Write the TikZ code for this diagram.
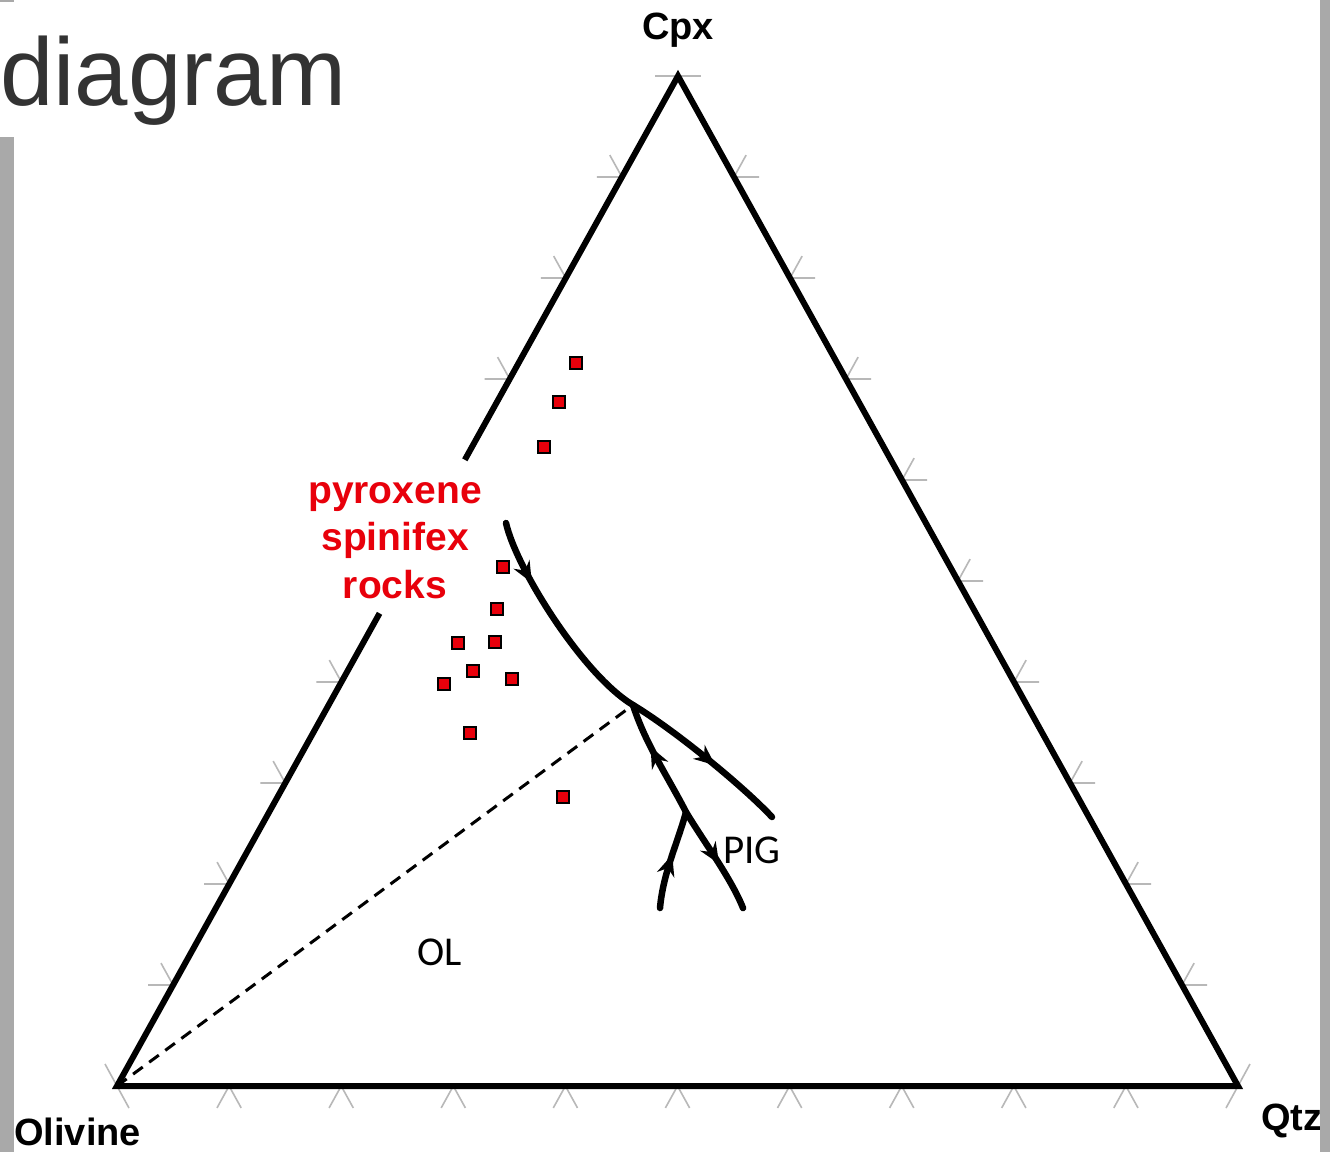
\documentclass[tikz,border=0pt]{standalone}
\usepackage{fontspec}
\setmainfont{Liberation Sans}
\newfontfamily\calibfont{Carlito}
\usetikzlibrary{calc,arrows.meta,decorations.markings}
\definecolor{tickgray}{HTML}{B8B8B8}
\definecolor{stripgray}{HTML}{A9A9A9}
\definecolor{titlegray}{HTML}{333333}
\definecolor{samplered}{HTML}{E8000B}
\definecolor{labelred}{HTML}{E8000B}
\begin{document}
\begin{tikzpicture}[x=1pt,y=-1pt,
  tickline/.style={draw=tickgray, line width=1.6pt},
  edgeline/.style={draw=black, line width=6pt, line join=miter},
  tieline/.style={draw=black, line width=3pt, dash pattern=on 12pt off 8pt},
  flowline/.style={draw=black, line width=6.5pt, line cap=round},
  flowarrow/.style={postaction={decorate}, decoration={markings,
     mark=at position #1 with {\arrow{Stealth[length=21pt,width=18pt,inset=7pt]}}}},
  sample/.style={rectangle, draw=black, fill=samplered, line width=1.8pt,
     minimum size=12.5pt, inner sep=0pt},
  vlabel/.style={font=\bfseries\fontsize{38}{44}\selectfont, inner sep=0pt},
  redlabel/.style={font=\bfseries\fontsize{39}{47}\selectfont, text=labelred, inner sep=0pt, anchor=base},
  fieldlabel/.style={font=\calibfont\fontsize{41}{46}\selectfont, inner sep=0pt}]

\useasboundingbox (0,0) rectangle (1330,1152);
\fill[white] (0,0) rectangle (1330,1152);

% vertices
\coordinate (O) at (117,1086);
\coordinate (Q) at (1238,1086);
\coordinate (C) at (678,76);

% ticks on the bottom edge
\foreach \k in {1,...,9} {
  \coordinate (b\k) at ($(O)!\k/10!(Q)$);
  \draw[tickline] ($(b\k)+(-12.1,21.9)$) -- (b\k) -- ($(b\k)+(12.1,21.9)$);
}
% ticks on the left edge
\foreach \k in {1,2,3,4,7,8,9} {
  \coordinate (l\k) at ($(O)!\k/10!(C)$);
  \draw[tickline] ($(l\k)+(-25,0)$) -- (l\k) -- ($(l\k)+(-12.1,-21.9)$);
}
% ticks on the right edge
\foreach \k in {1,...,9} {
  \coordinate (r\k) at ($(Q)!\k/10!(C)$);
  \draw[tickline] ($(r\k)+(25,0)$) -- (r\k) -- ($(r\k)+(12.1,-21.9)$);
}
% vertex ticks
\draw[tickline] ($(O)+(-12,-22)$) -- ($(O)+(12,22)$);
\draw[tickline] ($(Q)+(12,-22)$) -- ($(Q)+(-12,22)$);
\draw[tickline] ($(C)+(-23,0)$) -- ($(C)+(23,0)$);

% triangle (left edge broken by the label)
\coordinate (gapT) at ($(O)!0.620!(C)$);
\coordinate (gapB) at ($(O)!0.468!(C)$);
\draw[edgeline] (gapT) -- (C) -- (Q) -- (O) -- (gapB);

% cotectic curves
\coordinate (s) at (506,523);
\coordinate (j) at (633,705);
\coordinate (e) at (772,817);
\coordinate (k) at (686,812);
\coordinate (f) at (743,908);
\coordinate (g) at (660,908);

\draw[tieline] (O) -- (j);

\draw[flowline, flowarrow=0.29] (s) .. controls +(10,45) and +(-50,-30) .. (j);
\draw[flowline, flowarrow=0.57] (j) .. controls +(40,24) and +(-30,-32) .. (e);
\draw[flowline, flowarrow=0.62] (k) .. controls +(-18,-35) and +(12,38) .. (j);
\draw[flowline, flowarrow=0.55] (k) .. controls +(18,30) and +(-12,-30) .. (f);
\draw[flowline, flowarrow=0.55] (g) .. controls +(3,-35) and +(-8,30) .. (k);

% samples
\foreach \n/\x/\y in {1/576/363, 2/559/402, 3/544/447, 4/503/567, 5/497/609,
   6/458/643, 7/495/642, 8/473/671, 9/444/684, 10/512/679, 11/470/733, 12/563/797} {
  \node[sample] (sq\n) at (\x,\y) {};
}

% labels
\node[redlabel] (rl1) at (395,503) {pyroxene};
\node[redlabel] (rl2) at (395,550.5) {spinifex};
\node[redlabel] (rl3) at (395,598) {rocks};

\node[fieldlabel] (ol) at (440,952) {OL};
\node[fieldlabel] (pig) at (752,850) {PIG};

\node[vlabel, anchor=base] (cpxl) at (678,39) {Cpx};
\node[vlabel, anchor=base west] (olvl) at (14,1145) {Olivine};
\node[vlabel, anchor=base west] (qtzl) at (1261,1130) {Qtz};

% side strips
\fill[stripgray] (0,137) rectangle (14,1152);
\fill[stripgray] (0,0) rectangle (14,2);
\fill[stripgray] (1320,0) rectangle (1330,1152);

% title
\node[font=\fontsize{96}{110}\selectfont, text=titlegray, anchor=base west, inner sep=0pt] (title) at (0,105) {diagram};

\end{tikzpicture}
\end{document}
